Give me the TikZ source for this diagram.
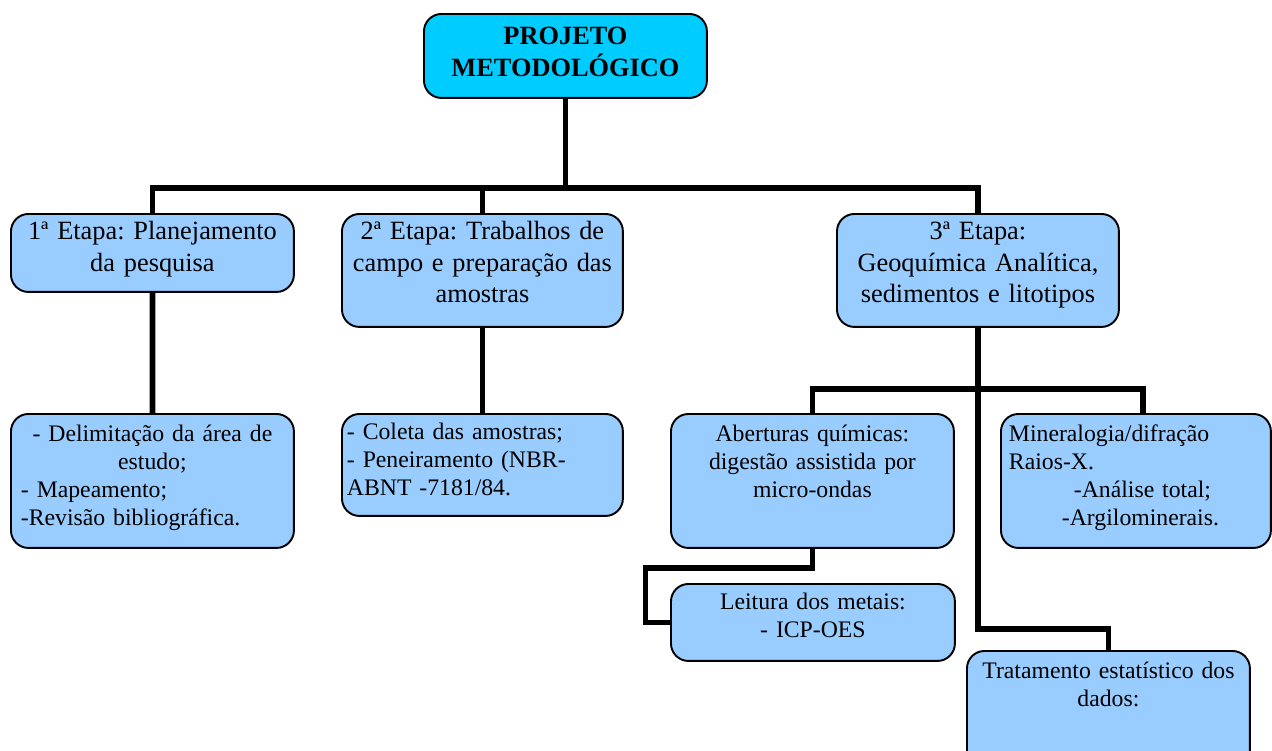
\documentclass[tikz,border=0pt]{standalone}
\usepackage{fontspec}
\setmainfont{Liberation Serif}
\frenchspacing
\definecolor{caixa}{RGB}{153,204,255}
\definecolor{topo}{RGB}{0,204,255}
\newcommand{\esq}[1]{\makebox[\linewidth][l]{#1}}

\begin{document}
\begin{tikzpicture}[x=0.02cm, y=-0.02cm, box/.style={draw, line width=1.1pt, rounded corners=0.35cm, fill=caixa, anchor=north west, inner ysep=0pt, inner xsep=0.1cm, align=center}, up/.style={font=\fontsize{15}{17.9}\selectfont, text height=0.52cm}, low/.style={font=\fontsize{13.5}{15.8}\selectfont, text height=0.56cm}, link/.style={line width=3.2pt}]

    \useasboundingbox (0,0) rectangle (1272,751);

    \node[box, fill=topo, font=\bfseries\fontsize{15}{18}\selectfont, text width=5.46cm, text height=0.62cm, text depth=1.06cm] (p) at (423,13) {PROJETO\\METODOLÓGICO};

    \node[box, up, text width=5.46cm, text depth=1.04cm] (e1) at (10,213) {1ª Etapa: Planejamento\\da pesquisa};
    \node[box, up, text width=5.42cm, text depth=1.74cm] (e2) at (341,213) {2ª Etapa: Trabalhos de\\campo e preparação das\\amostras};
    \node[box, up, text width=5.44cm, text depth=1.74cm] (e3) at (836,213) {3ª Etapa:\\Geoquímica Analítica,\\sedimentos e litotipos};

    \node[box, low, inner xsep=0.2cm, text width=5.26cm, text depth=2.12cm] (d1) at (10,413) {- Delimitação da área de\\estudo;\\\esq{- Mapeamento;}\\\esq{-Revisão bibliográfica.}};
    \node[box, low, align=left, text width=5.42cm, text height=0.52cm, text depth=1.52cm] (d2) at (341,413) {- Coleta das amostras;\\- Peneiramento (NBR-\\ABNT -7181/84.};
    \node[box, low, text width=5.46cm, text depth=2.12cm] (d3) at (670,413) {Aberturas químicas:\\digestão assistida por\\micro-ondas};
    \node[box, low, align=left, inner xsep=0.16cm, text width=5.08cm, text depth=2.12cm] (d4) at (1000,413) {Mineralogia/difração\\Raios-X.\\\hspace*{1.3cm}-Análise total;\\\hspace*{1.06cm}-Argilominerais.};

    \node[box, low, text width=5.48cm, text height=0.52cm, text depth=1.02cm] (l) at (670,583) {Leitura dos metais:\\- ICP-OES};
    \node[box, low, text width=5.46cm, text depth=1.84cm] (t) at (966,650) {Tratamento estatístico dos\\dados:};

    \draw[link] (p.south) -- ++(0,91);
    \draw[link] (e1.north) -- ++(0,-25) -| (e3.north);
    \draw[link] (e2.north) -- ++(0,-25);
    \draw[link] (e1.south) -- (d1.north);
    \draw[link] (e2.south) -- (d2.north);
    \draw[link] (e3.south) -- ++(0,301) -| (t.north);
    \draw[link] (d3.north) -- ++(0,-24) -| ([xshift=0.14cm]d4.north);
    \draw[link] (d3.south) -- ++(0,19) -- ++(-167,0) |- (l.west);
\end{tikzpicture}
\end{document}
